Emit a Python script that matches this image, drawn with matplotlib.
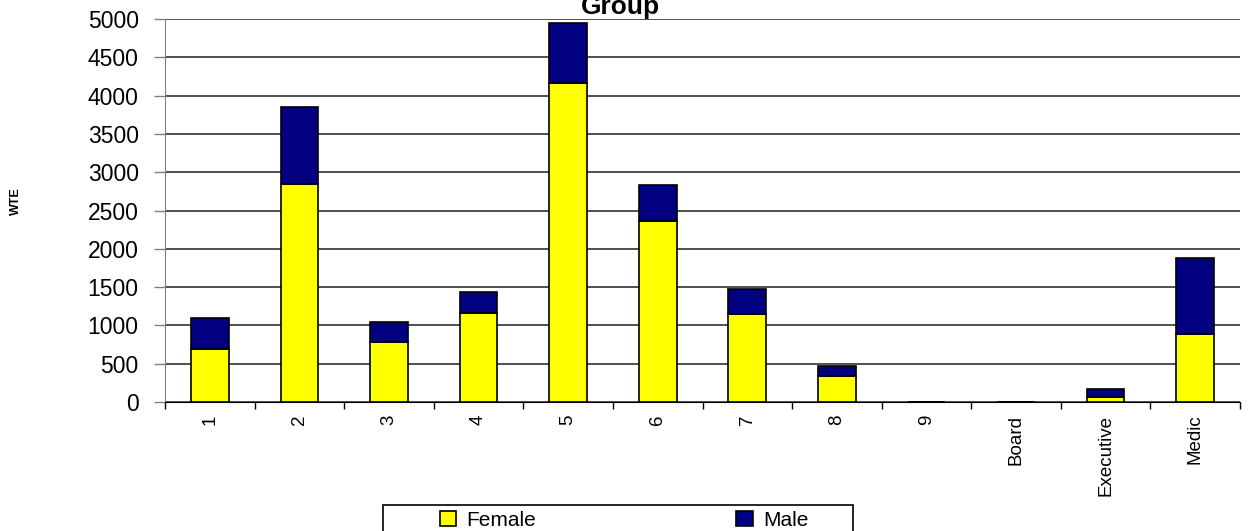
import matplotlib.pyplot as plt
from matplotlib.patches import Rectangle
import numpy as np

plt.rcParams['font.family'] = ['Liberation Sans', 'DejaVu Sans']

# WTE by staff group
groups = ['1', '2', '3', '4', '5', '6', '7', '8', '9', 'Board', 'Executive', 'Medic']
female = [690, 2850, 780, 1160, 4170, 2360, 1150, 340, 0, 2, 70, 890]
male = [410, 1000, 265, 270, 780, 470, 330, 130, 0, 4, 100, 990]

fig = plt.figure(figsize=(12.49, 5.31), dpi=100)
ax = fig.add_axes([0.1321, 0.2429, 0.8607, 0.7213])

x = np.arange(len(groups))
ax.bar(x, female, width=0.42, color='#ffff00', edgecolor='black', linewidth=1.2, label='Female', zorder=3)
ax.bar(x, male, width=0.42, bottom=female, color='#000080', edgecolor='black', linewidth=1.2, label='Male', zorder=3)

ax.set_xlim(-0.5, len(groups) - 0.5)
ax.set_ylim(0, 5000)
ax.set_yticks(range(0, 5001, 500))
ax.tick_params(axis='y', labelsize=16.5, length=8, width=1, color='#808080', pad=11)
ax.yaxis.grid(True, color='#202020', linewidth=1.1, zorder=0)

# category ticks sit between the bars, labels in the middle
ax.set_xticks(np.arange(-0.5, len(groups)), labels=[])
ax.set_xticks(x, labels=groups, minor=True, rotation=90)
ax.tick_params(axis='x', which='major', length=5, width=1, color='black')
ax.tick_params(axis='x', which='minor', length=0, labelsize=13.5, pad=9)

for s in ['top', 'right']:
    ax.spines[s].set_visible(False)
ax.spines['left'].set_color('#808080')
ax.spines['bottom'].set_color('black')

fig.text(0.497, 0.973, 'Group', ha='center', va='baseline', fontsize=19, fontweight='bold')
fig.text(0.0128, 0.6215, 'WTE', rotation=90, ha='center', va='center', fontsize=9, fontweight='bold')

# legend box runs off the bottom of the figure
fig.add_artist(Rectangle((0.3066, -0.02), 0.3763, 0.069, transform=fig.transFigure,
                         facecolor='white', edgecolor='black', linewidth=1.2, zorder=4))
leg = fig.legend(loc='center left', bbox_to_anchor=(0.352, 0.0207), borderaxespad=0,
                 borderpad=0, ncol=2, fontsize=15, frameon=False, handlelength=0.8,
                 handleheight=0.7, handletextpad=0.5, columnspacing=9.6)
leg.set_zorder(5)

plt.savefig('out.png', dpi=100)
